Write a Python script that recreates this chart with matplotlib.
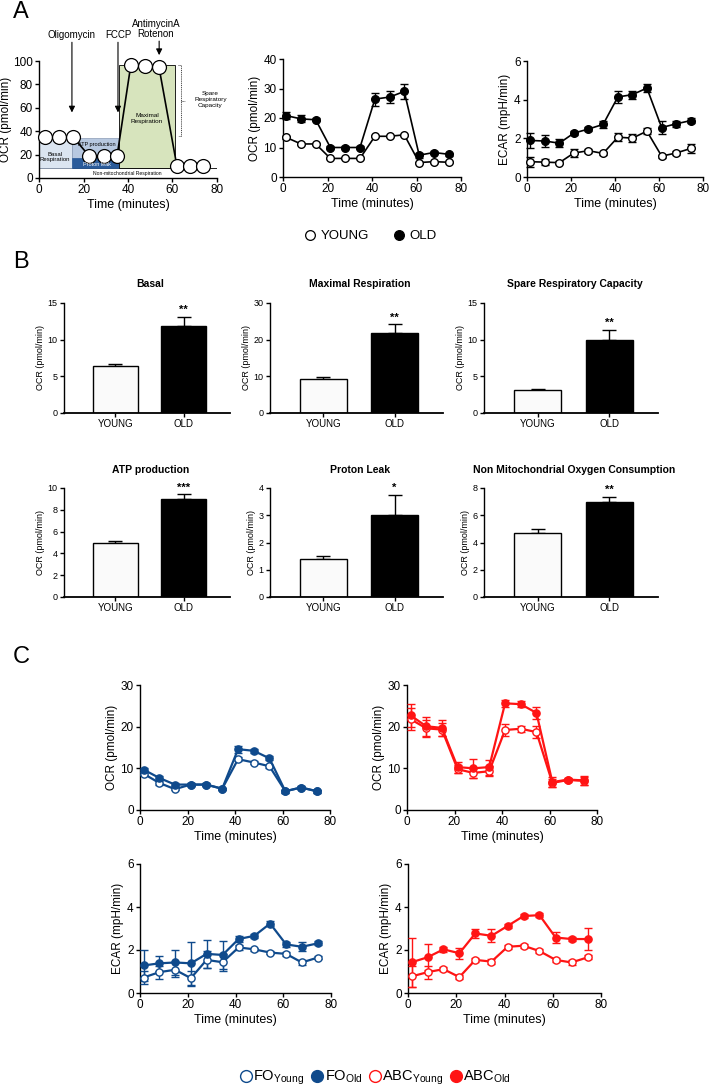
import matplotlib
matplotlib.use("Agg")
import matplotlib.pyplot as plt
from matplotlib.lines import Line2D
from matplotlib.patches import Rectangle

plt.rcParams['font.family'] = ['Liberation Sans', 'DejaVu Sans']
plt.rcParams['mathtext.fontset'] = 'custom'
plt.rcParams['mathtext.rm'] = 'Liberation Sans'

# ---------------- data ----------------
schematic_time = [2.7, 9.0, 15.3, 22.5, 29.2, 35.1, 41.3, 47.6, 53.9, 62.0, 67.9, 73.7]
schematic_ocr = [35, 35, 35, 19, 19, 19, 97, 96, 95, 10, 10, 10]

time_min = [1.5, 8.1, 14.7, 21.3, 27.9, 34.6, 41.3, 47.9, 54.5, 61.2, 67.8, 74.5]

young_ocr = [13.4, 11.2, 11.2, 6.3, 6.3, 6.3, 13.8, 13.8, 14.3, 4.9, 5.2, 5.0]
young_ocr_err = [0.4, 0.3, 0.3, 0.3, 0.3, 0.3, 0.4, 0.4, 0.4, 0.3, 0.3, 0.3]
old_ocr = [20.8, 19.7, 19.4, 10.0, 10.0, 10.0, 26.4, 27.1, 29.0, 7.4, 8.3, 7.7]
old_ocr_err = [1.3, 1.2, 0.5, 0.5, 0.4, 0.5, 2.2, 2.0, 2.5, 0.8, 0.6, 0.5]

young_ecar = [0.79, 0.77, 0.74, 1.24, 1.36, 1.22, 2.06, 2.01, 2.37, 1.08, 1.24, 1.48]
young_ecar_err = [0.25, 0.15, 0.08, 0.2, 0.1, 0.08, 0.2, 0.2, 0.15, 0.08, 0.1, 0.25]
old_ecar = [1.89, 1.86, 1.75, 2.27, 2.48, 2.72, 4.14, 4.26, 4.60, 2.56, 2.75, 2.92]
old_ecar_err = [0.4, 0.3, 0.2, 0.1, 0.1, 0.2, 0.3, 0.2, 0.2, 0.35, 0.15, 0.15]

groups = ['YOUNG', 'OLD']
b_titles = ['Basal', 'Maximal Respiration', 'Spare Respiratory Capacity',
            'ATP production', 'Proton Leak', 'Non Mitochondrial Oxygen Consumption']
b_young = [6.4, 9.4, 3.1, 4.95, 1.38, 4.7]
b_young_err = [0.3, 0.35, 0.2, 0.18, 0.13, 0.3]
b_old = [11.9, 21.8, 10.0, 9.0, 3.0, 7.0]
b_old_err = [1.2, 2.4, 1.35, 0.45, 0.75, 0.36]
b_sig = ['**', '**', '**', '***', '*', '**']
b_ymax = [15, 30, 15, 10, 4, 8]
b_ystep = [5, 10, 5, 2, 1, 2]

fo_young_ocr = [8.7, 6.5, 5.0, 6.1, 6.1, 5.1, 12.2, 11.4, 10.5, 4.5, 5.4, 4.5]
fo_young_ocr_err = [0.4, 0.4, 0.3, 0.3, 0.3, 0.3, 0.5, 0.4, 0.4, 0.3, 0.3, 0.3]
fo_old_ocr = [9.7, 7.7, 6.1, 6.1, 6.1, 5.1, 14.6, 14.2, 12.4, 4.5, 5.4, 4.5]
fo_old_ocr_err = [0.5, 0.5, 0.4, 0.3, 0.3, 0.3, 0.8, 0.5, 0.5, 0.3, 0.3, 0.3]

abc_young_ocr = [21.8, 19.6, 19.3, 9.8, 8.9, 9.3, 19.2, 19.5, 18.7, 6.5, 7.2, 7.0]
abc_young_ocr_err = [2.6, 2.0, 1.5, 1.0, 1.2, 1.2, 1.5, 0.7, 1.5, 1.0, 0.4, 0.9]
abc_old_ocr = [22.7, 20.1, 19.7, 10.3, 10.0, 10.3, 25.6, 25.4, 23.3, 6.7, 7.3, 7.1]
abc_old_ocr_err = [2.8, 2.3, 2.0, 1.3, 2.2, 1.8, 0.8, 0.7, 1.5, 1.2, 0.4, 1.0]

fo_young_ecar = [0.72, 0.97, 1.08, 0.69, 1.54, 1.43, 2.12, 2.03, 1.88, 1.82, 1.42, 1.65]
fo_young_ecar_err = [0.3, 0.3, 0.35, 0.35, 0.4, 0.4, 0.1, 0.08, 0.08, 0.08, 0.1, 0.08]
fo_old_ecar = [1.28, 1.38, 1.42, 1.38, 1.82, 1.77, 2.51, 2.66, 3.23, 2.26, 2.15, 2.31]
fo_old_ecar_err = [0.7, 0.35, 0.6, 1.0, 0.65, 0.65, 0.15, 0.1, 0.1, 0.1, 0.2, 0.1]

abc_young_ecar = [0.77, 0.97, 1.11, 0.74, 1.54, 1.46, 2.15, 2.2, 1.95, 1.54, 1.42, 1.66]
abc_young_ecar_err = [0.5, 0.3, 0.1, 0.1, 0.1, 0.1, 0.1, 0.1, 0.1, 0.1, 0.1, 0.1]
abc_old_ecar = [1.43, 1.66, 2.03, 1.85, 2.77, 2.66, 3.12, 3.58, 3.62, 2.58, 2.51, 2.51]
abc_old_ecar_err = [1.15, 0.6, 0.1, 0.25, 0.2, 0.3, 0.1, 0.1, 0.1, 0.25, 0.1, 0.5]

FO_COLOR = '#0f4a8c'
ABC_COLOR = '#ff1414'

W, H = 709, 1089
fig = plt.figure(figsize=(W / 100, H / 100), dpi=100)


def px_axes(l, t, r, b):
    return fig.add_axes([l / W, 1 - b / H, (r - l) / W, (b - t) / H])


def style(ax, fs=8, lw=1.0):
    for s in ['top', 'right']:
        ax.spines[s].set_visible(False)
    for s in ['left', 'bottom']:
        ax.spines[s].set_linewidth(lw)
    ax.tick_params(direction='out', length=3, width=lw, labelsize=fs, pad=1.5)


def time_axes(ax, ymax, ystep, ylabel, fs=8.5):
    style(ax, fs)
    ax.set_xlim(0, 80)
    ax.set_xticks(range(0, 81, 20))
    ax.set_ylim(0, ymax)
    ax.set_yticks([i * ystep for i in range(int(ymax / ystep) + 1)])
    ax.set_xlabel('Time (minutes)', fontsize=fs + 0.5, labelpad=2)
    ax.set_ylabel(ylabel, fontsize=fs, labelpad=2)


def series(ax, x, y, err, color, filled, ms=5.2, lw=1.2, z=3):
    ax.errorbar(x, y, yerr=err, color=color, lw=lw, elinewidth=1.0, capsize=3,
                capthick=1.0, marker='o', ms=ms, mfc=color if filled else 'white',
                mec=color, mew=1.0, zorder=z, clip_on=False)


# ---------------- panel A ----------------
fig.text(13 / W, 1 - 12 / H, 'A', fontsize=17, va='center', ha='left')

ax0 = px_axes(39, 61, 217, 178)
style(ax0, 8.5)
ax0.set_xlim(0, 80)
ax0.set_ylim(0, 100)
ax0.set_xticks(range(0, 81, 20))
ax0.set_yticks(range(0, 101, 20))
ax0.set_xlabel('Time (minutes)', fontsize=9, labelpad=2)
ax0.set_ylabel('OCR (pmol/min)', fontsize=8.5)
ax0.yaxis.set_label_coords(-0.15, 0.5)
ax0.add_patch(Rectangle((0, 0), 80, 8.5, facecolor='white', edgecolor='k', lw=0.6, zorder=1))
ax0.text(39.5, 4.2, 'Non-mitochondrial Respiration', fontsize=3.6, ha='center', va='center', zorder=2)
ax0.add_patch(Rectangle((0, 8.5), 15, 26.5, facecolor='#dbe5f1', edgecolor='#8a9bb5', lw=0.5, zorder=1))
ax0.text(7, 18, 'Basal\nRespiration', fontsize=4.3, ha='center', va='center', zorder=2, linespacing=1.1)
ax0.add_patch(Rectangle((15, 17), 21, 17, facecolor='#b7c8e0', edgecolor='#8a9bb5', lw=0.5, zorder=1))
ax0.text(26, 29, 'ATP production', fontsize=4.0, ha='center', va='center', zorder=5)
ax0.add_patch(Rectangle((15, 8.5), 21, 8.5, facecolor='#2a5b9a', edgecolor='#2a5b9a', lw=0.5, zorder=1))
ax0.text(26, 11.2, 'Proton leak', fontsize=4.0, ha='center', va='center', color='white', zorder=5)
ax0.add_patch(Rectangle((36, 8.5), 25, 88.5, facecolor='#d7e4bd', edgecolor='k', lw=0.6, zorder=1))
ax0.text(48.5, 51, 'Maximal\nRespiration', fontsize=4.6, ha='center', va='center', zorder=2, linespacing=1.1)
ax0.plot(schematic_time, schematic_ocr, '-o', color='k', lw=1.2, ms=10, mfc='white', mec='k',
         mew=0.9, zorder=4, clip_on=False)
# spare respiratory capacity bracket
ax0.plot([62.5, 64, 64, 62.5], [97, 97, 36, 36], ls=(0, (1.5, 1.2)), color='k', lw=0.5, clip_on=False)
ax0.plot([64, 65.5], [66, 66], ls=(0, (1.5, 1.2)), color='k', lw=0.5, clip_on=False)
ax0.text(77, 67, 'Spare\nRespiratory\nCapacity', fontsize=4.6, ha='center', va='center',
         linespacing=1.2, clip_on=False)
arrow_kw = dict(arrowstyle='-|>', color='k', lw=0.8, mutation_scale=9, shrinkA=0, shrinkB=0)
for xa, ytop, ytip in [(14.8, 116, 56), (35.5, 116, 56), (54.0, 117, 105)]:
    ax0.annotate('', xy=(xa, ytip), xytext=(xa, ytop), arrowprops=arrow_kw, annotation_clip=False)
ax0.text(14.4, 122, 'Oligomycin', fontsize=7, ha='center', va='center', clip_on=False)
ax0.text(35.5, 122, 'FCCP', fontsize=7, ha='center', va='center', clip_on=False)
ax0.text(52.6, 131.5, 'AntimycinA', fontsize=7, ha='center', va='center', clip_on=False)
ax0.text(52.6, 123, 'Rotenon', fontsize=7, ha='center', va='center', clip_on=False)

ax1 = px_axes(283, 59, 461, 177)
time_axes(ax1, 40, 10, 'OCR (pmol/min)')
series(ax1, time_min, young_ocr, young_ocr_err, 'k', False, ms=5.5)
series(ax1, time_min, old_ocr, old_ocr_err, 'k', True, ms=5.5)

ax2 = px_axes(527, 61, 703, 177)
time_axes(ax2, 6, 2, 'ECAR (mpH/min)')
series(ax2, time_min, young_ecar, young_ecar_err, 'k', False, ms=5.5)
series(ax2, time_min, old_ecar, old_ecar_err, 'k', True, ms=5.5)

hA = [Line2D([], [], ls='none', marker='o', ms=7, mfc='white', mec='k', mew=0.9),
      Line2D([], [], ls='none', marker='o', ms=7, mfc='k', mec='k', mew=0.9)]
fig.legend(hA, groups, loc='center', bbox_to_anchor=(370 / W, 1 - 236 / H), ncol=2,
           frameon=False, fontsize=9.5, handletextpad=0.3, columnspacing=1.8, handlelength=1.0)

# ---------------- panel B ----------------
fig.text(13 / W, 1 - 262 / H, 'B', fontsize=17, va='center', ha='left')
cols = [(64, 230), (270, 443), (484, 658)]
rows = [(303, 413, 284), (488, 597, 470)]
for i in range(6):
    r = rows[i // 3]
    c = cols[i % 3]
    ax = px_axes(c[0], r[0], c[1], r[1])
    style(ax, 6.5)
    xs = [0, 1]
    ax.bar(xs, [b_young[i], b_old[i]], width=0.66, color=['#fafafa', 'k'], edgecolor='k',
           lw=1.0, zorder=2)
    ax.errorbar(xs, [b_young[i], b_old[i]], yerr=[[0, 0], [b_young_err[i], b_old_err[i]]],
                fmt='none', ecolor='k', elinewidth=1.0, capsize=5, capthick=1.0, zorder=1)
    ax.text(1, b_old[i] + b_old_err[i] + b_ymax[i] * 0.015, b_sig[i], fontsize=8,
            ha='center', va='bottom', fontweight='bold')
    ax.set_xlim(-0.75, 1.68)
    ax.set_ylim(0, b_ymax[i])
    ax.set_yticks([k * b_ystep[i] for k in range(int(b_ymax[i] / b_ystep[i]) + 1)])
    ax.set_xticks(xs)
    ax.set_xticklabels(groups, fontsize=7)
    ax.set_ylabel('OCR (pmol/min)', fontsize=6.5, labelpad=2)
    ax.spines['bottom'].set_linewidth(1.3)
    fig.text((c[0] + c[1]) / 2 / W + 0.005, 1 - r[2] / H, b_titles[i], fontsize=7.5,
             fontweight='bold', ha='center', va='center')

# ---------------- panel C ----------------
fig.text(13 / W, 1 - 657 / H, 'C', fontsize=17, va='center', ha='left')

c1 = px_axes(140, 685, 330, 810)
time_axes(c1, 30, 10, 'OCR (pmol/min)')
series(c1, time_min, fo_young_ocr, fo_young_ocr_err, FO_COLOR, False, lw=1.6)
series(c1, time_min, fo_old_ocr, fo_old_ocr_err, FO_COLOR, True, lw=1.6)

c2 = px_axes(407, 685, 597, 810)
time_axes(c2, 30, 10, 'OCR (pmol/min)')
series(c2, time_min, abc_young_ocr, abc_young_ocr_err, ABC_COLOR, False, lw=1.6)
series(c2, time_min, abc_old_ocr, abc_old_ocr_err, ABC_COLOR, True, lw=1.6)

c3 = px_axes(140, 864, 331, 993)
time_axes(c3, 6, 2, 'ECAR (mpH/min)')
series(c3, time_min, fo_young_ecar, fo_young_ecar_err, FO_COLOR, False, lw=1.6)
series(c3, time_min, fo_old_ecar, fo_old_ecar_err, FO_COLOR, True, lw=1.6)

c4 = px_axes(408, 864, 601, 993)
time_axes(c4, 6, 2, 'ECAR (mpH/min)')
series(c4, time_min, abc_young_ecar, abc_young_ecar_err, ABC_COLOR, False, lw=1.6)
series(c4, time_min, abc_old_ecar, abc_old_ecar_err, ABC_COLOR, True, lw=1.6)

hC = [Line2D([], [], ls='none', marker='o', ms=8.5, mfc='white', mec=FO_COLOR, mew=1.0),
      Line2D([], [], ls='none', marker='o', ms=8.5, mfc=FO_COLOR, mec=FO_COLOR, mew=1.0),
      Line2D([], [], ls='none', marker='o', ms=8.5, mfc='white', mec=ABC_COLOR, mew=1.0),
      Line2D([], [], ls='none', marker='o', ms=8.5, mfc=ABC_COLOR, mec=ABC_COLOR, mew=1.0)]
labC = [r'FO$_{\mathregular{Young}}$', r'FO$_{\mathregular{Old}}$',
        r'ABC$_{\mathregular{Young}}$', r'ABC$_{\mathregular{Old}}$']
fig.legend(hC, labC, loc='center', bbox_to_anchor=(375 / W, 1 - 1078 / H), ncol=4,
           frameon=False, fontsize=10.5, handletextpad=0.05, columnspacing=0.4, handlelength=0.9)

fig.savefig('out.png', dpi=100)
